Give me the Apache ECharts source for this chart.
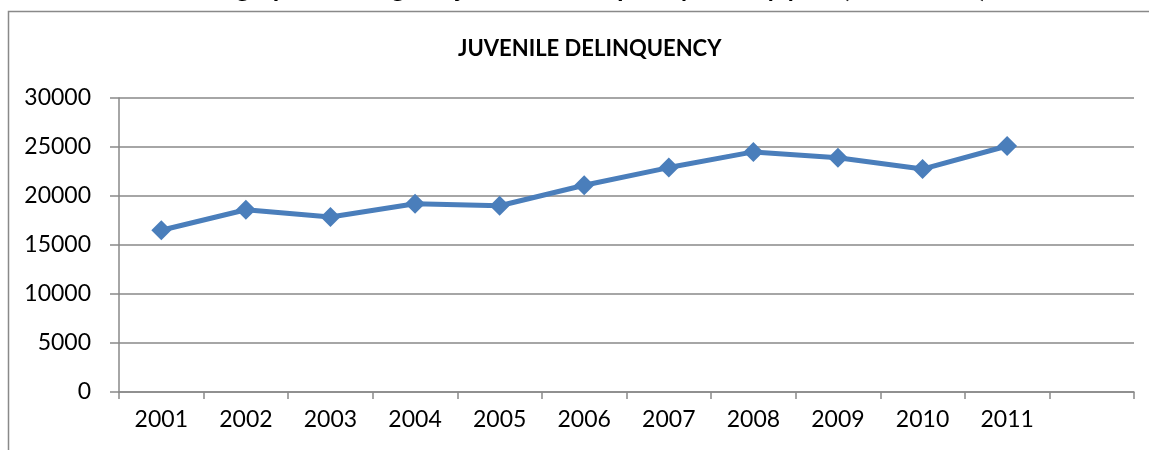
<!DOCTYPE html>
<html>
<head>
<meta charset="utf-8">
<script src="https://cdn.jsdelivr.net/npm/echarts@6/dist/echarts.min.js"></script>
<style>
  html, body { margin: 0; padding: 0; background: #fff; }
  #chart { width: 1149px; height: 450px; }
</style>
</head>
<body>
<div id="chart"></div>
<script>
var years = ['2001', '2002', '2003', '2004', '2005', '2006', '2007', '2008', '2009', '2010', '2011', ''];
var cases = [16500, 18600, 17850, 19200, 19000, 21100, 22900, 24500, 23900, 22750, 25100];
var yTicks = { min: 0, max: 30000, step: 5000 };

var gray = '#898989';
var chart = echarts.init(document.getElementById('chart'));

chart.setOption({
    animation: false,
    backgroundColor: '#fff',
    textStyle: { fontFamily: 'Lato' },
    title: {
        text: 'JUVENILE DELINQUENCY',
        left: 453,
        top: 33,
        textStyle: { fontFamily: 'Lato', fontWeight: 'bold', fontSize: 22, color: '#000' }
    },
    graphic: [
        // frame of the chart area (cut off to the right and bottom)
        {
            type: 'rect',
            shape: { x: 8.5, y: 11.5, width: 1200, height: 500 },
            style: { fill: 'none', stroke: gray, lineWidth: 1.5 },
            silent: true
        },
        // caption above, mostly cut off by the top of the picture
        {
            type: 'text',
            right: 162,
            top: -24,
            style: {
                text: 'Bar graph showing the juvenile delinquency rate by year (2001-2011)',
                font: 'bold 26px Lato',
                fill: '#000'
            },
            silent: true
        }
    ],
    grid: { left: 119, right: 15, top: 98, bottom: 58 },
    xAxis: {
        type: 'category',
        data: years,
        boundaryGap: true,
        axisLine: { lineStyle: { color: gray, width: 1.5 } },
        axisTick: { show: true, alignWithLabel: false, length: 7, interval: 0, lineStyle: { color: gray, width: 1.5 } },
        axisLabel: { color: '#000', fontSize: 23, margin: 16, interval: 0 }
    },
    yAxis: {
        type: 'value',
        min: yTicks.min,
        max: yTicks.max,
        interval: yTicks.step,
        axisLine: { show: true, lineStyle: { color: gray, width: 1.5 } },
        axisTick: { show: true, length: 9, lineStyle: { color: gray, width: 1.5 } },
        axisLabel: { color: '#000', fontSize: 23, margin: 28, formatter: function (v) { return String(v); } },
        splitLine: { lineStyle: { color: gray, width: 1.5 } }
    },
    series: [{
        type: 'line',
        data: cases,
        symbol: 'diamond',
        symbolSize: 20,
        lineStyle: { color: '#4a7ebb', width: 5 },
        itemStyle: { color: '#4a7ebb' }
    }]
});
</script>
</body>
</html>
